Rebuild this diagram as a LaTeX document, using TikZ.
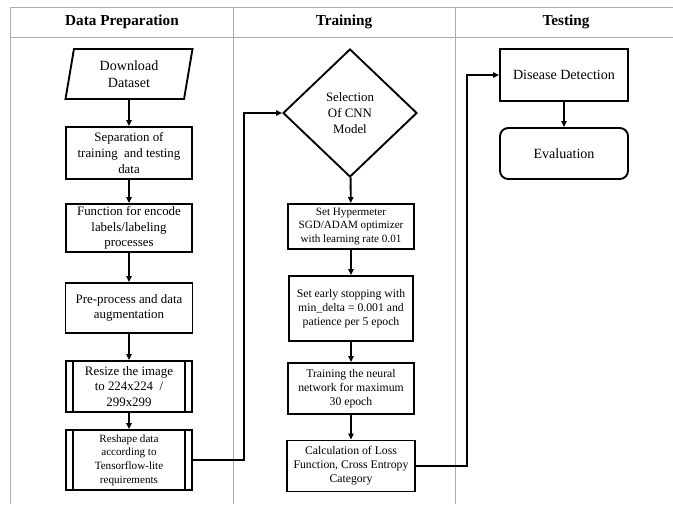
\documentclass[tikz,border=0pt]{standalone}
\usepackage{fontspec}
\setmainfont{Liberation Serif}
\usetikzlibrary{arrows.meta,positioning,calc,shapes.geometric}

\begin{document}
\begin{tikzpicture}[
    x=0.03cm, y=-0.03cm,
    process/.style={rectangle, draw, line width=1.6pt, align=center, inner sep=2pt, font=\fontsize{11}{13.5}\selectfont},
    dataio/.style={trapezium, trapezium left angle=75, trapezium right angle=105, trapezium stretches body, draw, line width=1.6pt, align=center, inner sep=2pt, font=\fontsize{12}{14.5}\selectfont},
    decision/.style={diamond, draw, line width=1.6pt, align=center, inner sep=1pt, font=\fontsize{11}{13.5}\selectfont},
    subproc/.style={process},
    terminal/.style={rectangle, rounded corners=7pt, draw, line width=1.6pt, align=center, font=\fontsize{12}{14.5}\selectfont},
    small_text/.style={font=\fontsize{9.5}{11.6}\selectfont},
    mid_text/.style={font=\fontsize{10}{12}\selectfont},
    header/.style={font=\fontsize{13}{15}\selectfont\bfseries},
    tableline/.style={draw, gray!65, line width=0.8pt},
    flow/.style={draw, line width=1.6pt, -{Triangle[length=5pt, width=4.5pt]}}
]

% Column positions
\def\colA{129}
\def\colB{351}
\def\colC{564}

\useasboundingbox (0,0) rectangle (673,504);

% Table
\draw[tableline] (10.5,504) -- (10.5,7.5) -- (673,7.5);
\draw[tableline] (10.5,37.5) -- (673,37.5);
\draw[tableline] (233,7.5) -- (233,504);
\draw[tableline] (455,7.5) -- (455,504);

% Headers
\node[header] (hdprep) at (122,22) {Data Preparation};
\node[header] (hdtrain) at (344,22) {Training};
\node[header] (hdtest) at (566,22) {Testing};

% Data preparation
\node[dataio, minimum width=3.81cm, minimum height=1.5cm] (download) at (\colA,74) {Download\\Dataset};
\node[process, minimum width=3.78cm, minimum height=1.56cm] (separation) at (\colA,153) {Separation of\\training\ \ and testing\\data};
\node[process, minimum width=3.78cm, minimum height=1.44cm] (encode) at (\colA,228) {Function for encode\\labels/labeling\\processes};
\node[process, minimum width=3.81cm, minimum height=1.5cm] (preprocess) at (\colA,308) {Pre-process and data\\augmentation};
\node[subproc, minimum width=3.78cm, minimum height=1.53cm] (resize) at (\colA,386.5) {Resize the image\\to 224x224\ \ /\\299x299};
\node[subproc, small_text, minimum width=3.78cm, minimum height=1.8cm] (reshape) at (\colA,460) {Reshape data\\according to\\Tensorflow-lite\\requirements};

% Training
\node[decision, minimum width=4.02cm, minimum height=3.84cm] (select) at (350,113) {Selection\\Of CNN\\Model};
\node[process, small_text, minimum width=3.78cm, minimum height=1.35cm] (hyper) at (\colB,226.5) {Set Hypermeter\\SGD/ADAM optimizer\\with learning rate 0.01};
\node[process, mid_text, minimum width=3.72cm, minimum height=1.95cm] (stopping) at (\colB,308.5) {Set early stopping with\\min\_delta = 0.001 and\\patience per 5 epoch};
\node[process, mid_text, minimum width=3.78cm, minimum height=1.53cm] (training) at (\colB,388.5) {Training the neural\\network for maximum\\30 epoch};
\node[process, mid_text, minimum width=3.84cm, minimum height=1.53cm] (loss) at (\colB,466) {Calculation of Loss\\Function, Cross Entropy\\Category};

% Testing
\node[process, font=\fontsize{12}{14.5}\selectfont, minimum width=3.84cm, minimum height=1.56cm] (detect) at (\colC,75) {Disease Detection};
\node[terminal, minimum width=3.84cm, minimum height=1.53cm] (evaluation) at (\colC,153.5) {Evaluation};

% Side bars of the sub-process boxes
\foreach \n in {resize,reshape} {
    \draw[line width=1.6pt] ([xshift=0.24cm]\n.north west) -- ([xshift=0.24cm]\n.south west);
    \draw[line width=1.6pt] ([xshift=-0.24cm]\n.north east) -- ([xshift=-0.24cm]\n.south east);
}

% Connections
\draw[flow] (download) -- (separation);
\draw[flow] (separation) -- (encode);
\draw[flow] (encode) -- (preprocess);
\draw[flow] (preprocess) -- (resize);
\draw[flow] (resize) -- (reshape);

\coordinate (bendA) at (244,460);
\draw[flow] (reshape.east) -- (bendA) |- (select.west);

\draw[flow] (select) -- (hyper);
\draw[flow] (hyper) -- (stopping);
\draw[flow] (stopping) -- (training);
\draw[flow] (training) -- (loss);

\coordinate (bendB) at (467,466);
\draw[flow] (loss.east) -- (bendB) |- (detect.west);

\draw[flow] (detect) -- (evaluation);

\end{tikzpicture}
\end{document}
